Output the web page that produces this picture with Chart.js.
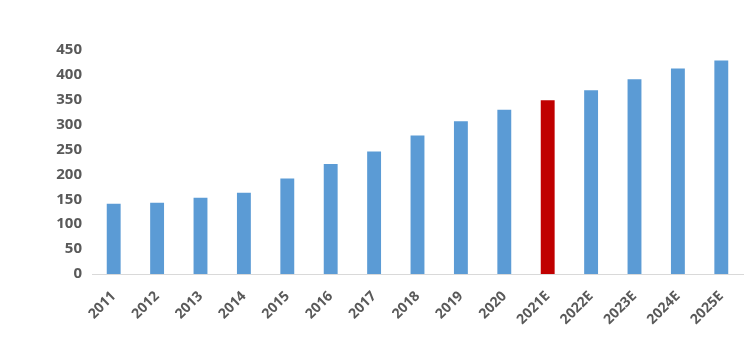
<!DOCTYPE html>
<html>
<head>
<meta charset="utf-8">
<style>
html,body{margin:0;padding:0;background:#fff;}
#wrap{width:748px;height:342px;}
</style>
<script src="https://cdn.jsdelivr.net/npm/chart.js@4"></script>
</head>
<body>
<div id="wrap"><canvas id="c" width="748" height="342"></canvas></div>
<script>
const categories = ["2011","2012","2013","2014","2015","2016","2017","2018","2019","2020","2021E","2022E","2023E","2024E","2025E"];
const values = [141,143,153,163,192,221,246,278,307,330,349,369,391,413,429];
const highlightCategory = "2021E";
const yTicks = [0,50,100,150,200,250,300,350,400,450];

const blue = "#5B9BD5", red = "#C00000";
const colors = categories.map(c => c === highlightCategory ? red : blue);

new Chart(document.getElementById("c"), {
  type: "bar",
  data: {
    labels: categories,
    datasets: [{
      data: values,
      backgroundColor: colors,
      borderWidth: 0,
      barPercentage: 0.64,
      categoryPercentage: 0.5
    }]
  },
  options: {
    responsive: false,
    animation: false,
    layout: { padding: { top: 50, right: 5, left: 0, bottom: 0 } },
    plugins: { legend: { display: false }, tooltip: { enabled: false } },
    scales: {
      x: {
        grid: { display: false, drawTicks: false },
        border: { display: true, color: "#D9D9D9", width: 1 },
        ticks: {
          color: "#595959",
          font: { family: "Open Sans", size: 14, weight: "bold" },
          maxRotation: 45, minRotation: 45,
          padding: 14,
          autoSkip: false
        },
        afterFit: s => { s.height = 68; }
      },
      y: {
        min: 0, max: 450,
        afterBuildTicks: s => { s.ticks = yTicks.map(v => ({ value: v })); },
        grid: { display: false, drawTicks: false },
        border: { display: false },
        ticks: {
          color: "#595959",
          font: { family: "Open Sans", size: 15, weight: "bold" },
          padding: 10
        },
        afterFit: s => { s.width = 92; }
      }
    }
  }
});
</script>
</body>
</html>
